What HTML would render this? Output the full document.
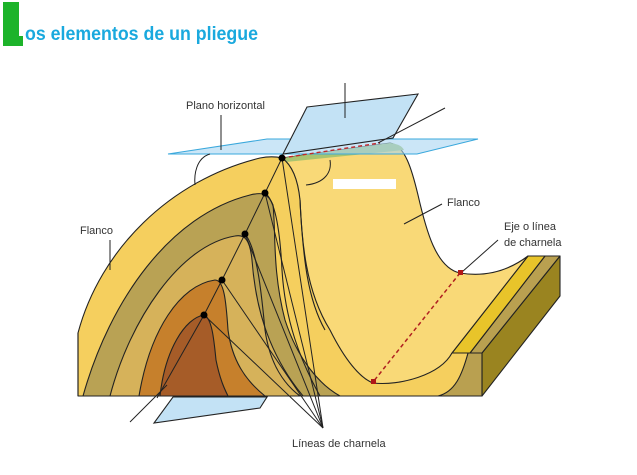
<!DOCTYPE html>
<html><head><meta charset="utf-8"><style>
html,body{margin:0;padding:0;background:#fff;}
svg{display:block}
text{font-family:"Liberation Sans",sans-serif;fill:#333;}
</style></head><body>
<svg width="637" height="475" viewBox="0 0 637 475" xmlns="http://www.w3.org/2000/svg">
<rect x="3" y="2" width="16" height="44" fill="#1db32a"/>
<rect x="3" y="36" width="20" height="10" fill="#1db32a"/>
<text x="25" y="40" font-size="19" font-weight="bold" textLength="233" lengthAdjust="spacingAndGlyphs" style="fill:#1aa9de">os elementos de un pliegue</text>

<g stroke="#222" stroke-width="1.1" stroke-linejoin="round">
<path d="M482,353 L560,256 L560,296 L482,396 Z" fill="#9a8420"/>
<path d="M470,353 L545,256 L560,256 L482,353 Z" fill="#b9a050"/>
<path d="M452,353 L528,256 L545,256 L470,353 Z" fill="#e8c42a"/>
<path d="M468,353 L482,353 L482,396 L438,396 C458,390 462,370 468,353 Z" fill="#b9a050"/>
<path d="M282,158 L390,143 C405,145 412,170 418,195 C426,230 436,268 460,273 C490,278 512,268 528,256 L452,353 C440,375 430,390 418,396 L300,396 L300,200 C295,180 290,165 282,158 Z" fill="#f9d977"/>
<path d="M282,158 L390,143 C398,144 402,146 404,150 L286,162 Z" fill="#a8c470" stroke="none"/>
<path d="M78,333 C100,250 170,180 260,158 C270,156 278,157 282,158 C292,165 298,180 300,200 C302,240 305,290 330,330 C345,360 360,378 373,383 C400,386 440,375 452,353 L468,353 C462,375 455,392 438,396 L78,396 Z" fill="#f5cf5e"/>
<path d="M83,396 C110,300 170,215 250,195 C262,192 268,193 273,205 C276,230 272,270 285,320 C298,360 320,385 340,396 Z" fill="#b9a254"/>
<path d="M110,396 C130,320 180,245 235,236 C245,234 250,240 252,260 C255,300 265,350 303,396 Z" fill="#d6b25a"/>
<path d="M139,396 C150,330 180,285 215,280 C224,280 226,300 228,330 C232,360 245,380 265,396 Z" fill="#c6802c"/>
<path d="M160,396 C165,350 185,318 204,315 C212,318 214,340 216,360 C220,380 225,390 228,396 Z" fill="#a65c28"/>
<path d="M265,193 C275,200 280,230 282,270 C285,320 300,360 320,396" fill="none"/>
<path d="M245,234 C258,250 262,300 265,330 C270,365 285,385 300,396" fill="none"/>
<path d="M300,200 C303,260 308,300 325,330" fill="none"/>
<line x1="78" y1="396" x2="482" y2="396"/>
<line x1="78" y1="333" x2="78" y2="396"/>
</g>

<path d="M168,154 L267,139 L478,139 L417,154 Z" fill="#a9d6f2" fill-opacity="0.6" stroke="#3aa8dc" stroke-width="1"/>
<path d="M307,107 L418,94 L393,138 L283,154 Z" fill="#c3e2f5" stroke="#222" stroke-width="1.1"/>
<path d="M173,397 L267,397 L260,408 L154,423 Z" fill="#c3e2f5" stroke="#222" stroke-width="1.1"/>

<g stroke="#222" stroke-width="1" fill="none">
<line x1="282" y1="158" x2="380" y2="143" stroke="#c0282a" stroke-width="1.4" stroke-dasharray="4,3"/>
<line x1="460" y1="273" x2="373" y2="382" stroke="#b02020" stroke-width="1.5" stroke-dasharray="4,3"/>
<polyline points="282,158 265,193 245,234 222,280 204,315 157,398"/>
<line x1="282" y1="158" x2="323" y2="428"/>
<line x1="265" y1="193" x2="323" y2="428"/>
<line x1="245" y1="234" x2="323" y2="428"/>
<line x1="222" y1="280" x2="323" y2="428"/>
<line x1="204" y1="315" x2="323" y2="428"/>
<line x1="221" y1="115" x2="221" y2="150"/>
<line x1="345" y1="83" x2="345" y2="118"/>
<line x1="445" y1="108" x2="378" y2="143"/>
<line x1="110" y1="240" x2="110" y2="270"/>
<line x1="442" y1="204" x2="404" y2="224"/>
<line x1="498" y1="240" x2="462" y2="272"/>
<line x1="130" y1="422" x2="167" y2="385"/>
<path d="M210,154 C196,158 194,175 195,185"/>
<path d="M330,160 C332,172 325,183 306,185"/>
</g>
<g fill="#000">
<circle cx="282" cy="158" r="3.5"/><circle cx="265" cy="193" r="3.5"/>
<circle cx="245" cy="234" r="3.5"/><circle cx="222" cy="280" r="3.5"/>
<circle cx="204" cy="315" r="3.5"/>
</g>
<rect x="458" y="270" width="5" height="5" fill="#b01818"/>
<rect x="371" y="379" width="5" height="5" fill="#b01818"/>
<rect x="333" y="179" width="63" height="10" fill="#fff"/>

<g font-size="11">
<text x="186" y="109">Plano horizontal</text>
<text x="80" y="234">Flanco</text>
<text x="447" y="206">Flanco</text>
<text x="504" y="230">Eje o línea</text>
<text x="504" y="246">de charnela</text>
<text x="292" y="447">Líneas de charnela</text>
</g>
</svg>
</body></html>
